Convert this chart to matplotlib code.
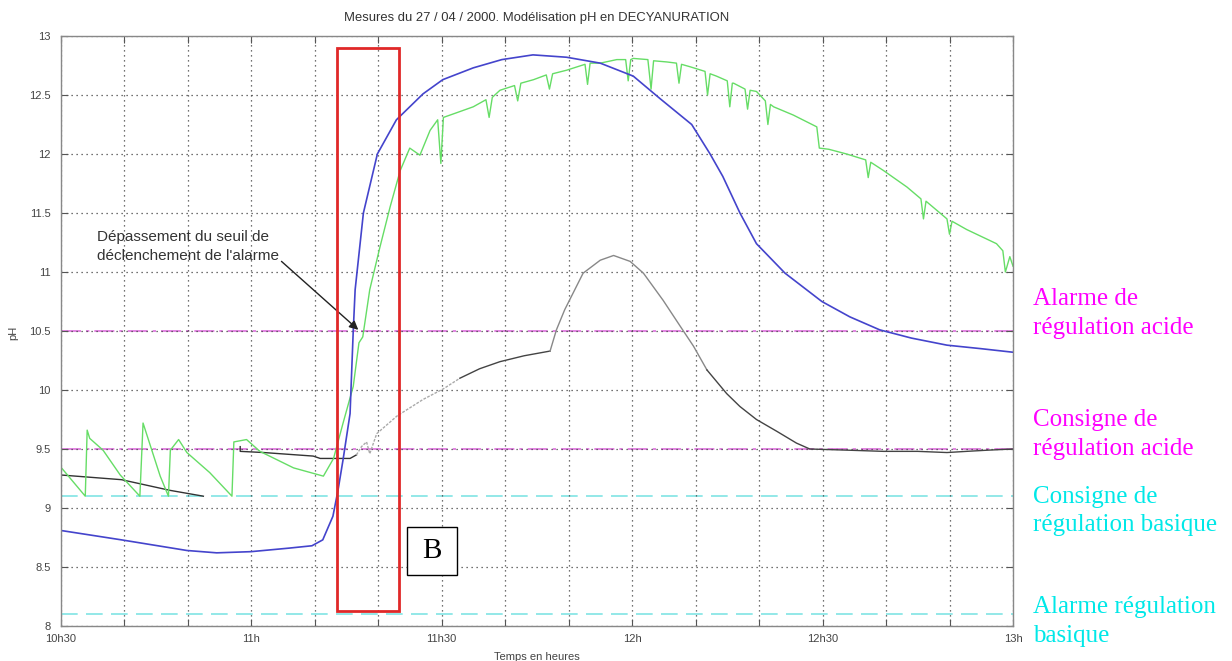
import matplotlib.pyplot as plt
import matplotlib.patches as patches
import numpy as np

# time in minutes after 10h30
blue_t = [0, 9.6, 19.9, 24.6, 30, 36, 39.6, 41.3, 42.9, 43.7, 44.5, 45.6, 46.1, 46.4, 47.7,
          49.9, 52.9, 57.1, 60.2, 65, 69.5, 74.4, 79.7, 85, 90.2, 94.4, 99.4, 102.3, 104.3,
          107, 109.6, 114.1, 119.9, 124.3, 129, 134, 139.6, 145, 150]
blue_ph = [8.81, 8.73, 8.64, 8.62, 8.63, 8.66, 8.68, 8.73, 8.93, 9.15, 9.41, 9.8, 10.5, 10.85, 11.5,
           12.0, 12.29, 12.51, 12.63, 12.73, 12.80, 12.84, 12.82, 12.77, 12.66, 12.47, 12.25, 12.0, 11.81,
           11.5, 11.24, 10.99, 10.75, 10.62, 10.51, 10.44, 10.38, 10.35, 10.32]

green_t = [0, 3.9, 4.2, 4.6, 6.7, 9.4, 12.5, 13.0, 15.7, 17.0, 17.3, 18.6, 19.9, 23.5, 27.0, 27.3,
           29.3, 31.4, 36.7, 41.4, 43.0, 44.5, 46.1, 47.0, 47.6, 48.7, 50.3, 51.9, 53.5, 55.0, 56.6,
           58.2, 59.4, 59.9, 60.3, 62.4, 65.0, 67.0, 67.5, 68.0, 69.2, 71.5, 72.0, 72.5, 74.5, 76.5,
           77.0, 77.5, 79.7, 82.6, 83.0, 83.4, 85.0, 87.6, 89.0, 89.4, 89.8, 90.2, 92.5, 93.0, 93.4,
           95.5, 97.0, 97.4, 97.8, 99.1, 101.5, 101.9, 102.3, 103.3, 105.0, 105.4, 105.8, 106.0,
           107.8, 108.2, 108.6, 109.6, 111.0, 111.4, 111.8, 112.3, 115.4, 119.1, 119.5, 121.0,
           123.8, 126.8, 127.2, 127.6, 129.6, 133.3, 135.5, 135.9, 136.3, 137.4, 139.6, 140.0,
           140.4, 142.7, 147.4, 148.4, 148.8, 149.5, 150.0]
green_ph = [9.35, 9.10, 9.66, 9.59, 9.49, 9.28, 9.10, 9.72, 9.27, 9.10, 9.49, 9.58, 9.47, 9.30, 9.10, 9.56,
            9.58, 9.48, 9.34, 9.27, 9.42, 9.72, 10.03, 10.40, 10.45, 10.85, 11.21, 11.55, 11.86, 12.05, 11.99,
            12.20, 12.29, 11.92, 12.31, 12.35, 12.40, 12.46, 12.31, 12.48, 12.54, 12.58, 12.45, 12.60, 12.63, 12.67,
            12.55, 12.68, 12.71, 12.76, 12.59, 12.77, 12.77, 12.80, 12.80, 12.62, 12.80, 12.81, 12.80, 12.55, 12.79,
            12.78, 12.77, 12.60, 12.76, 12.74, 12.70, 12.50, 12.68, 12.66, 12.62, 12.40, 12.60, 12.60,
            12.55, 12.38, 12.54, 12.53, 12.45, 12.25, 12.42, 12.40, 12.33, 12.23, 12.05, 12.04,
            12.00, 11.95, 11.80, 11.93, 11.86, 11.72, 11.62, 11.45, 11.60, 11.55, 11.45, 11.32,
            11.43, 11.36, 11.24, 11.18, 11.00, 11.13, 11.05]

# black measurement, split where the trace is dark or faded
black1_t = [0, 9.6, 17.2, 22.5]
black1_ph = [9.28, 9.24, 9.15, 9.10]
black2_t = [28.3, 28.3, 32, 39.8, 40.9, 45.6, 46.6]
black2_ph = [9.52, 9.48, 9.47, 9.44, 9.42, 9.42, 9.45]
faded1_t = [46.6, 47.4, 48.2, 48.7, 49.8, 53, 57.1, 60.3, 62.9]
faded1_ph = [9.45, 9.52, 9.56, 9.46, 9.63, 9.78, 9.92, 10.01, 10.10]
black3_t = [62.9, 66, 69.2, 73, 77.1]
black3_ph = [10.10, 10.18, 10.24, 10.29, 10.33]
faded2_t = [77.1, 78.1, 79.4, 82.3, 85, 87.1, 89.7, 91.8, 94.9, 97.6, 99.7, 101.8]
faded2_ph = [10.33, 10.51, 10.68, 10.99, 11.10, 11.14, 11.09, 10.99, 10.76, 10.54, 10.37, 10.17]
black4_t = [101.8, 104.9, 107, 109.6, 112.8, 115.9, 118, 124, 129.6, 135, 139.6, 142.7, 146, 150]
black4_ph = [10.17, 9.97, 9.86, 9.75, 9.65, 9.55, 9.50, 9.49, 9.48, 9.48, 9.47, 9.48, 9.49, 9.50]

acid_levels = [10.5, 9.5]
basic_levels = [9.1, 8.1]

xtick_pos = list(range(0, 151, 10))
xtick_lab = {0: "10h30", 30: "11h", 60: "11h30", 90: "12h", 120: "12h30", 150: "13h"}
ytick_pos = [8, 8.5, 9, 9.5, 10, 10.5, 11, 11.5, 12, 12.5, 13]

W, H = 1232, 661
fig = plt.figure(figsize=(W / 100, H / 100), dpi=100)
ax = fig.add_axes([60.5 / W, 1 - 626 / H, (1013 - 60.5) / W, (626 - 36) / H])

for lv in acid_levels:
    ax.axhline(lv, color="#dd70dd", lw=1.2, ls=(0, (12, 3, 2, 3)), zorder=1)
for lv in basic_levels:
    ax.axhline(lv, color="#80e4e4", lw=1.2, ls=(0, (10, 5)), zorder=1)

ax.plot(black1_t, black1_ph, color="#333333", lw=1)
ax.plot(black2_t, black2_ph, color="#333333", lw=1)
ax.plot(faded1_t, faded1_ph, color="#aaaaaa", lw=1, ls=(0, (2, 1)))
ax.plot(black3_t, black3_ph, color="#444444", lw=1)
ax.plot(faded2_t, faded2_ph, color="#888888", lw=1)
ax.plot(black4_t, black4_ph, color="#444444", lw=1)
ax.plot(green_t, green_ph, color="#66dd66", lw=1)
ax.plot(blue_t, blue_ph, color="#4444cc", lw=1.2)

# alarm zone
ax.add_patch(patches.Rectangle((43.6, 8.13), 9.7, 4.77, fill=False, ec="#e02828", lw=2, zorder=5))
ax.add_patch(patches.Rectangle((54.6, 8.43), 7.8, 0.41, fc="white", ec="black", lw=1, zorder=5))
ax.text(58.5, 8.635, "B", ha="center", va="center", fontsize=21,
        family="Liberation Serif", zorder=6)

ax.text(5.7, 11.22, "Dépassement du seuil de\ndéclenchement de l'alarme", ha="left", va="center",
        fontsize=11, color="#333333", family="Liberation Sans", linespacing=1.45)
ax.annotate("", xy=(46.9, 10.51), xytext=(34.8, 11.09),
            arrowprops=dict(arrowstyle="-|>", color="#222222", lw=1, mutation_scale=13,
                            shrinkA=0, shrinkB=0))

ax.set_xlim(0, 150)
ax.set_ylim(8, 13)
ax.set_xticks(xtick_pos)
ax.set_xticklabels([xtick_lab.get(p, "") for p in xtick_pos])
ax.set_yticks(ytick_pos)
ax.set_yticklabels(["8", "8.5", "9", "9.5", "10", "10.5", "11", "11.5", "12", "12.5", "13"])
ax.grid(True, color="#444444", ls=(0, (1, 3)), lw=0.9)
ax.tick_params(direction="in", length=5, width=0.8, color="#555555", top=True, right=True,
               labelsize=8, labelcolor="#444444")
ax.tick_params(axis="y", pad=7)
ax.tick_params(axis="x", pad=6)
for lab in ax.get_xticklabels() + ax.get_yticklabels():
    lab.set_family("Liberation Sans")
for sp in ax.spines.values():
    sp.set_color("#888888")
    sp.set_linewidth(1)

fig.text(537 / W, 1 - 18 / H, "Mesures du 27 / 04 / 2000. Modélisation pH en DECYANURATION",
         ha="center", va="center", fontsize=9.4, color="#333333", family="Liberation Sans")
fig.text(537 / W, 1 - 657 / H, "Temps en heures", ha="center", va="center",
         fontsize=8, color="#444444", family="Liberation Sans")
fig.text(13 / W, 1 - 333 / H, "pH", ha="center", va="center", rotation=90,
         fontsize=8, color="#444444", family="Liberation Sans")

right_labels = [("Alarme de\nrégulation acide", 313.5, "#ff00ff"),
                ("Consigne de\nrégulation acide", 434.5, "#ff00ff"),
                ("Consigne de\nrégulation basique", 511, "#00e8e8"),
                ("Alarme régulation\nbasique", 621.7, "#00e8e8")]
for txt, yp, col in right_labels:
    fig.text(1033 / W, 1 - yp / H, txt, ha="left", va="center", fontsize=18,
             color=col, family="Liberation Serif", linespacing=1.4)

fig.savefig("out.png", dpi=100)
